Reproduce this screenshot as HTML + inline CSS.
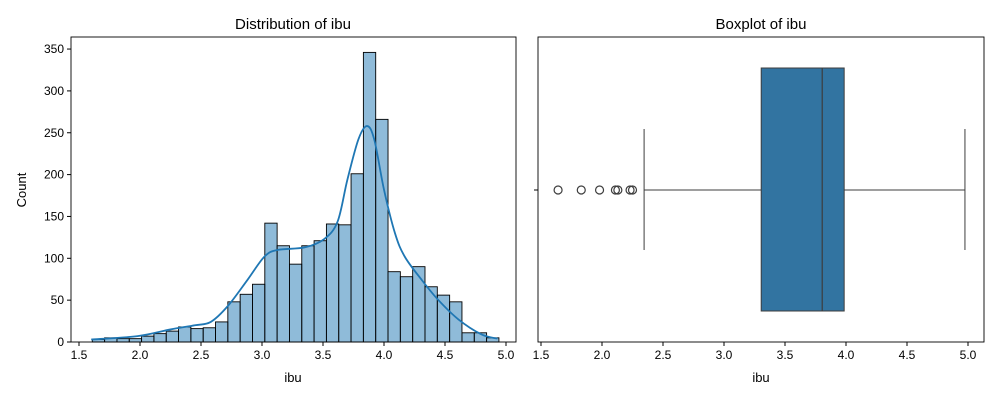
<!DOCTYPE html>
<html><head><meta charset="utf-8"><style>
body{margin:0;background:#fff;font-family:"Liberation Sans","DejaVu Sans",sans-serif}
svg text{font-family:"Liberation Sans","DejaVu Sans",sans-serif}
</style></head><body>
<svg id="c" width="1000" height="400" xmlns="http://www.w3.org/2000/svg"></svg>
<script>
const binStart=1.609, binWidth=0.101;
const counts=[3,5,4,4,7,10,13,18,16,17,24,48,57,69,142,115,93,115,121,141,140,201,346,266,84,78,90,66,56,48,11,11,5];
const kdeX=[1.60,1.98,2.25,2.45,2.58,2.72,2.88,3.02,3.13,3.35,3.51,3.62,3.70,3.79,3.86,3.92,4.00,4.09,4.17,4.31,4.44,4.61,4.80,4.93];
const kdeY=[3,7,15,20,24,43,74,102,110,113,123,144,194,242,258,242,182,130,102,74,51,27,9,4];
const xTicks=[1.5,2.0,2.5,3.0,3.5,4.0,4.5,5.0];
const yTicks=[0,50,100,150,200,250,300,350];
const boxStats=[2.345,3.305,3.805,3.985,4.975]; // whislo,q1,med,q3,whishi
const outliers=[1.64,1.83,1.98,2.11,2.13,2.23,2.25];
const NS="http://www.w3.org/2000/svg";
const svg=document.getElementById('c');
function mk(t,a,p){const e=document.createElementNS(NS,t);for(const k in a)e.setAttribute(k,a[k]);(p||svg).appendChild(e);return e;}
const L={x0:71,x1:516,y0:37,y1:342};
const lx=v=>79+(v-1.5)*122;
const ly=v=>342-v*0.837;
const g1=mk('g',{});


counts.forEach((c,i)=>{
  const a=binStart+i*binWidth;
  const r=mk('rect',{x:lx(a),y:ly(c),width:lx(a+binWidth)-lx(a),height:ly(0)-ly(c),fill:'rgba(31,119,180,0.5)',stroke:'#000','stroke-width':0.9},g1);
  
  
});
const P=kdeX.map((x,i)=>[lx(x),ly(kdeY[i])]);
let d='M'+P[0][0]+','+P[0][1];
for(let i=0;i<P.length-1;i++){
  const p0=P[Math.max(0,i-1)],p1=P[i],p2=P[i+1],p3=P[Math.min(P.length-1,i+2)];
  const c1=[p1[0]+(p2[0]-p0[0])/6,p1[1]+(p2[1]-p0[1])/6];
  const c2=[p2[0]-(p3[0]-p1[0])/6,p2[1]-(p3[1]-p1[1])/6];
  d+='C'+c1.join(',')+' '+c2.join(',')+' '+p2.join(',');
}
const kl=mk('path',{d:d,fill:'none',stroke:'#1f77b4','stroke-width':1.8,'stroke-linejoin':'round'},g1);


mk('rect',{x:L.x0,y:L.y0,width:L.x1-L.x0,height:L.y1-L.y0,fill:'none',stroke:'#000','stroke-width':0.9},g1);
xTicks.forEach(t=>{mk('line',{x1:lx(t),x2:lx(t),y1:342,y2:346,stroke:'#000'},g1);
  const tx=mk('text',{x:lx(t),y:359,'font-size':12,'text-anchor':'middle'},g1);tx.textContent=t.toFixed(1);
  });
yTicks.forEach(t=>{mk('line',{x1:67,x2:71,y1:ly(t),y2:ly(t),stroke:'#000'},g1);
  const tx=mk('text',{x:64,y:ly(t)+4,'font-size':12,'text-anchor':'end'},g1);tx.textContent=t;
  });
let t=mk('text',{x:293,y:29,'font-size':15,'text-anchor':'middle'},g1);t.textContent='Distribution of ibu';

t=mk('text',{x:293,y:382,'font-size':13,'text-anchor':'middle'},g1);t.textContent='ibu';

t=mk('text',{x:26,y:190,'font-size':13,'text-anchor':'middle',transform:'rotate(-90 26 190)'},g1);t.textContent='Count';

const rx=v=>541+(v-1.5)*122;
const g2=mk('g',{});


mk('rect',{x:538,y:37,width:446,height:305,fill:'none',stroke:'#000','stroke-width':0.9},g2);
const c='#3d3d3d';
mk('line',{x1:rx(boxStats[0]),x2:rx(boxStats[1]),y1:190,y2:190,stroke:c},g2);
mk('line',{x1:rx(boxStats[3]),x2:rx(boxStats[4]),y1:190,y2:190,stroke:c},g2);
mk('line',{x1:rx(boxStats[0]),x2:rx(boxStats[0]),y1:129,y2:250,stroke:c},g2);
mk('line',{x1:rx(boxStats[4]),x2:rx(boxStats[4]),y1:129,y2:250,stroke:c},g2);
const bx=mk('rect',{x:rx(boxStats[1]),y:68,width:rx(boxStats[3])-rx(boxStats[1]),height:243,fill:'#3274a1',stroke:c},g2);

mk('line',{x1:rx(boxStats[2]),x2:rx(boxStats[2]),y1:68,y2:311,stroke:c,'stroke-width':1.2},g2);
outliers.forEach(o=>{const ci=mk('circle',{cx:rx(o),cy:190,r:4,fill:'none',stroke:c,'stroke-width':1.2},g2);
  });
mk('line',{x1:534,x2:538,y1:190,y2:190,stroke:'#000'},g2);
xTicks.forEach(t=>{mk('line',{x1:rx(t),x2:rx(t),y1:342,y2:346,stroke:'#000'},g2);
  const tx=mk('text',{x:rx(t),y:359,'font-size':12,'text-anchor':'middle'},g2);tx.textContent=t.toFixed(1);
  });
t=mk('text',{x:761,y:29,'font-size':15,'text-anchor':'middle'},g2);t.textContent='Boxplot of ibu';

t=mk('text',{x:761,y:382,'font-size':13,'text-anchor':'middle'},g2);t.textContent='ibu';

</script>
</body></html>
